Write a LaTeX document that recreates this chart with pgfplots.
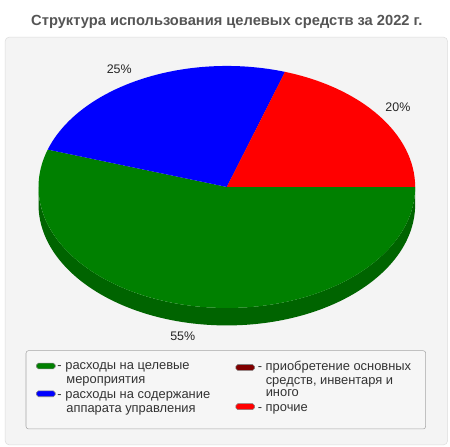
\documentclass[border=0pt]{standalone}
\usepackage{fontspec}
\setmainfont{Liberation Sans}
\usepackage{pgfplots}
\usepackage{pgfplotstable}
\pgfplotsset{compat=1.18}

\definecolor{pgreen}{HTML}{008000}
\definecolor{pblue}{HTML}{0000FF}
\definecolor{pbrown}{HTML}{800000}
\definecolor{pred}{HTML}{FF0000}
\definecolor{pgreenD}{HTML}{006400}
\definecolor{pblueD}{HTML}{0000B0}
\definecolor{pbrownD}{HTML}{5A0000}
\definecolor{predD}{HTML}{B00000}
\definecolor{panel}{HTML}{F4F4F4}
\definecolor{panelline}{HTML}{DDDDDD}
\definecolor{legfill}{HTML}{F6F6F6}
\definecolor{titlegray}{HTML}{555555}
\definecolor{txt}{HTML}{333333}

% shares in percent, in drawing order (clockwise from 3 o'clock)
\pgfplotstableread{
share top side
55 pgreen pgreenD
25 pblue pblueD
0 pbrown pbrownD
20 pred predD
}\piedata

% pie geometry, axis units are pixels (1px = 0.75pt)
\def\cx{225}\def\cy{188.5}
\def\rx{142.4pt}\def\ry{91.5pt}\def\dep{13.2pt}

\begin{document}
% start/end angles of each slice
\def\cum{360}
\pgfplotsforeachungrouped \i in {0,...,3}{%
  \pgfplotstablegetelem{\i}{share}\of\piedata
  \pgfmathsetmacro\endang{\cum-3.6*\pgfplotsretval}%
  \expandafter\let\csname s\i\endcsname\cum
  \expandafter\let\csname e\i\endcsname\endang
  \pgfmathsetmacro\lo{max(\endang,180)}%
  \pgfmathsetmacro\hi{min(\cum,360)}%
  \expandafter\let\csname lo\i\endcsname\lo
  \expandafter\let\csname hi\i\endcsname\hi
  \pgfplotstablegetelem{\i}{top}\of\piedata
  \expandafter\let\csname c\i\endcsname\pgfplotsretval
  \pgfplotstablegetelem{\i}{side}\of\piedata
  \expandafter\let\csname d\i\endcsname\pgfplotsretval
  \let\cum\endang
}%
\begin{tikzpicture}
\begin{axis}[
  width=337.5pt, height=337.5pt, scale only axis,
  xmin=0, xmax=450, ymin=0, ymax=450, y dir=reverse,
  hide axis, clip=false,
]
\coordinate (TL) at (axis cs:0,0);
\coordinate (BR) at (axis cs:450,450);
% background panel and title
\path[fill=white] (axis cs:0,0) rectangle (axis cs:450,450);
\draw[panelline, fill=panel, rounded corners=3pt] (axis cs:1.5,37.5) rectangle (axis cs:447.5,448.5);
\node[anchor=base, font=\bfseries\fontsize{11.1}{13}\selectfont, text=titlegray]
  at (axis cs:225,26) {Структура использования целевых средств за 2022 г.};

% side walls (front half only)
\pgfplotsinvokeforeach{0,...,3}{
  \ifdim\csname hi#1\endcsname pt>\csname lo#1\endcsname pt
    \fill[fill=\csname d#1\endcsname] (axis cs:\cx,\cy) ++(\csname lo#1\endcsname:142.4pt and 91.5pt)
      arc[start angle=\csname lo#1\endcsname, end angle=\csname hi#1\endcsname, x radius=\rx, y radius=\ry]
      -- ++(0,-\dep)
      arc[start angle=\csname hi#1\endcsname, end angle=\csname lo#1\endcsname, x radius=\rx, y radius=\ry]
      -- cycle;
  \fi
}
% top faces
\pgfplotsinvokeforeach{0,...,3}{
  \fill[fill=\csname c#1\endcsname] (axis cs:\cx,\cy) -- ++(\csname s#1\endcsname:142.4pt and 91.5pt)
    arc[start angle=\csname s#1\endcsname, end angle=\csname e#1\endcsname, x radius=\rx, y radius=\ry]
    -- cycle;
}

% percentage labels
\begin{scope}[every node/.style={anchor=base, font=\fontsize{9.4}{11}\selectfont, text=black!85}]
\node at (axis cs:116.5,74) {25\%};
\node at (axis cs:397.5,112) {20\%};
\node at (axis cs:180.5,343) {55\%};
\end{scope}

% legend
\draw[gray!70, fill=legfill, rounded corners=2pt] (axis cs:22.5,353.5) rectangle (axis cs:425.5,432.5);
\begin{scope}[every node/.style={anchor=base west, inner sep=0pt, font=\fontsize{9.75}{11}\selectfont, text=txt}]
\draw[gray, fill=pgreen, rounded corners=1.5pt] (axis cs:33,366) rectangle (axis cs:52,372);
\node at (axis cs:54,373) {- расходы на целевые};
\node at (axis cs:63,387) {мероприятия};
\draw[gray, fill=pblue, rounded corners=1.5pt] (axis cs:33,394) rectangle (axis cs:52,400);
\node at (axis cs:54,402) {- расходы на содержание};
\node at (axis cs:63,416) {аппарата управления};
\draw[gray, fill=pbrown, rounded corners=1.5pt] (axis cs:234,367.5) rectangle (axis cs:253,373.5);
\node at (axis cs:256,373.5) {- приобретение основных};
\node at (axis cs:264,388) {средств, инвентаря и};
\node at (axis cs:264,399.5) {иного};
\draw[gray, fill=pred, rounded corners=1.5pt] (axis cs:234,407) rectangle (axis cs:253,413);
\node at (axis cs:256,414.5) {- прочие};
\end{scope}
\end{axis}
\pgfresetboundingbox
\path (TL) rectangle (BR);
\end{tikzpicture}
\end{document}
